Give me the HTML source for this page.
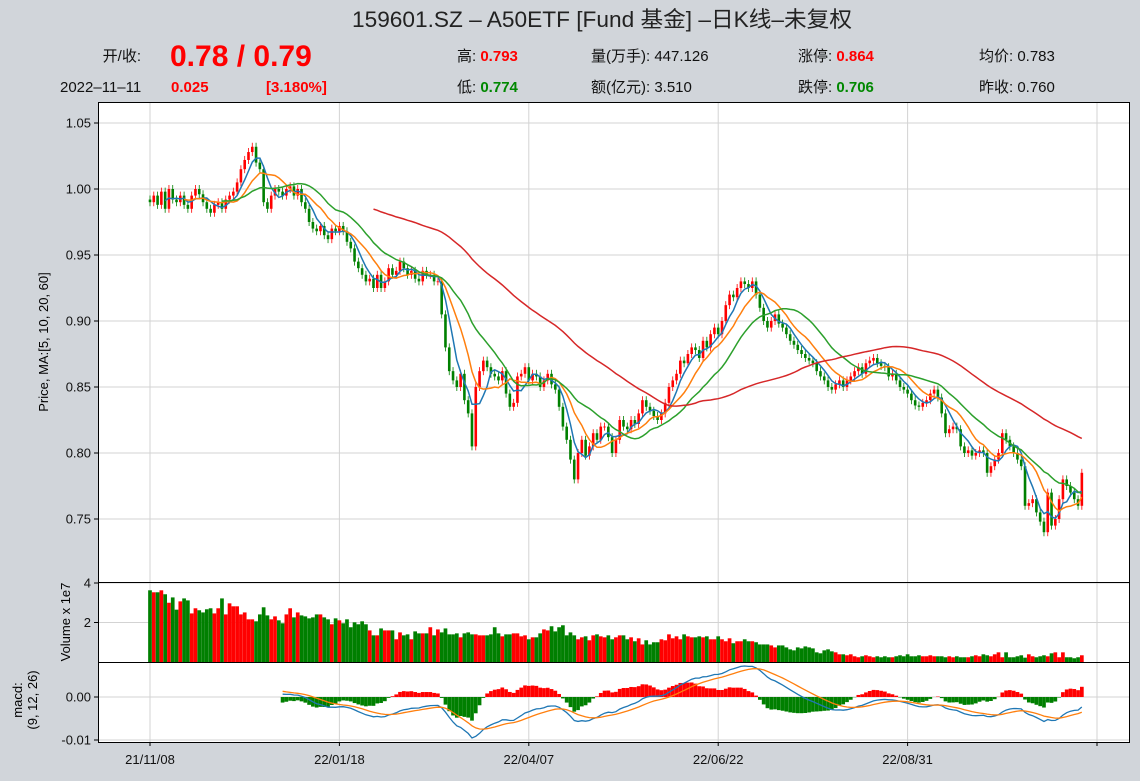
<!DOCTYPE html>
<html><head><meta charset="utf-8">
<style>
body{margin:0;background:#d1d5da;width:1140px;height:776px;overflow:hidden;font-family:"Liberation Sans","Noto Sans CJK SC",sans-serif;}
svg text{font-family:"Liberation Sans","Noto Sans CJK SC",sans-serif;}
</style></head>
<body>
<svg id="chart" width="1140" height="776" xmlns="http://www.w3.org/2000/svg">
<defs><clipPath id="macdclip"><rect x="98" y="662" width="1032" height="80"/></clipPath></defs>
<rect width="1140" height="776" fill="#d1d5da"/>
<text x="602" y="27" font-size="22" text-anchor="middle" fill="#222" textLength="500" lengthAdjust="spacingAndGlyphs">159601.SZ – A50ETF [Fund 基金] –日K线–未复权</text>
<g font-size="15" fill="#111">
<text x="141" y="61" text-anchor="end">开/收:</text>
<text x="170" y="66" font-size="30" font-weight="bold" fill="#f00">0.78 / 0.79</text>
<text x="457" y="61">高: <tspan fill="#f00" font-weight="bold">0.793</tspan></text>
<text x="591" y="61">量(万手): 447.126</text>
<text x="798" y="61">涨停: <tspan fill="#f00" font-weight="bold">0.864</tspan></text>
<text x="979" y="61">均价: 0.783</text>
<text x="60" y="92">2022–11–11</text>
<text x="171" y="92" fill="#f00" font-weight="bold">0.025</text>
<text x="266" y="92" fill="#f00" font-weight="bold">[3.180%]</text>
<text x="457" y="92">低: <tspan fill="#080" font-weight="bold">0.774</tspan></text>
<text x="591" y="92">额(亿元): 3.510</text>
<text x="798" y="92">跌停: <tspan fill="#080" font-weight="bold">0.706</tspan></text>
<text x="979" y="92">昨收: 0.760</text>
</g>
<rect x="98" y="102" width="1032" height="480" fill="#fff"/>
<rect x="98" y="582" width="1032" height="80" fill="#fff"/>
<rect x="98" y="662" width="1032" height="80" fill="#fff"/>
<g id="grid"></g>
<g id="marks"></g>
<g id="macdmarks" clip-path="url(#macdclip)"></g>
<g id="frames" fill="none" stroke="#000" stroke-width="1">
<rect x="98.5" y="102.5" width="1031" height="480"/>
<rect x="98.5" y="582.5" width="1031" height="80"/>
<rect x="98.5" y="662.5" width="1031" height="80"/>
</g>
<g id="labels" font-size="13" fill="#111"></g>
<text transform="translate(48,342) rotate(-90)" font-size="13" text-anchor="middle">Price, MA:[5, 10, 20, 60]</text>
<text transform="translate(70,622) rotate(-90)" font-size="13" text-anchor="middle">Volume x 1e7</text>
<text transform="translate(22,700) rotate(-90)" font-size="13" text-anchor="middle">macd:</text>
<text transform="translate(37,700) rotate(-90)" font-size="13" text-anchor="middle">(9, 12, 26)</text>
</svg>
<script>
const closes=[0.990,0.995,0.988,0.998,0.985,1.000,0.992,0.990,0.995,0.988,
0.985,0.995,1.000,0.996,0.990,0.985,0.982,0.988,0.990,0.985,
0.992,0.995,0.998,1.005,1.015,1.022,1.028,1.032,1.020,1.015,
0.990,0.985,0.995,1.000,0.998,0.995,1.000,1.002,0.995,1.000,
0.990,0.985,0.975,0.970,0.968,0.972,0.965,0.962,0.970,0.968,
0.972,0.968,0.960,0.955,0.945,0.940,0.935,0.930,0.932,0.925,
0.935,0.925,0.930,0.940,0.935,0.938,0.945,0.940,0.935,0.938,
0.932,0.930,0.938,0.935,0.935,0.930,0.930,0.905,0.880,0.862,
0.855,0.850,0.860,0.840,0.830,0.805,0.850,0.862,0.870,0.865,
0.860,0.858,0.855,0.862,0.845,0.835,0.838,0.858,0.860,0.865,
0.855,0.860,0.858,0.850,0.855,0.860,0.852,0.848,0.835,0.820,
0.810,0.795,0.780,0.800,0.810,0.798,0.805,0.815,0.810,0.820,
0.820,0.812,0.800,0.810,0.825,0.820,0.818,0.825,0.822,0.830,
0.840,0.835,0.832,0.828,0.825,0.830,0.838,0.850,0.855,0.860,
0.870,0.868,0.875,0.880,0.878,0.872,0.885,0.880,0.890,0.895,
0.890,0.900,0.912,0.920,0.918,0.925,0.930,0.928,0.925,0.930,
0.920,0.910,0.900,0.895,0.900,0.905,0.898,0.895,0.890,0.885,
0.882,0.878,0.875,0.872,0.870,0.868,0.862,0.858,0.855,0.850,
0.848,0.852,0.855,0.850,0.855,0.858,0.862,0.865,0.860,0.868,
0.870,0.872,0.868,0.866,0.865,0.858,0.860,0.855,0.850,0.848,
0.845,0.840,0.836,0.835,0.838,0.840,0.845,0.848,0.842,0.830,
0.815,0.818,0.820,0.818,0.805,0.800,0.802,0.798,0.800,0.802,
0.800,0.785,0.790,0.795,0.800,0.815,0.810,0.805,0.800,0.795,
0.790,0.760,0.762,0.765,0.755,0.748,0.740,0.770,0.745,0.750,
0.765,0.780,0.775,0.770,0.765,0.760,0.785];
const firstOpen=0.992;
const volumes=[3.63,3.53,3.53,3.63,3.43,3.0,3.27,2.65,3.07,3.22,
3.12,2.46,2.72,2.62,2.51,2.67,2.72,2.46,2.72,3.22,
2.41,2.97,2.82,2.82,2.41,2.51,2.16,2.16,2.06,2.41,
2.77,2.36,2.16,2.31,2.11,1.96,2.41,2.72,2.26,2.51,
2.36,2.31,2.21,2.26,2.41,2.41,2.26,2.16,1.91,2.21,
2.11,1.96,2.16,1.76,2.01,1.91,2.06,1.91,1.60,1.35,
1.35,1.70,1.60,1.60,1.60,1.15,1.50,1.35,1.40,1.15,
1.55,1.45,1.45,1.45,1.76,1.35,1.65,1.50,1.70,1.40,
1.40,1.45,1.25,1.45,1.50,1.40,1.40,1.35,1.35,1.35,
1.40,1.76,1.45,1.30,1.40,1.40,1.45,1.45,1.30,1.35,
1.15,1.25,1.25,1.45,1.65,1.60,1.81,1.55,1.76,1.86,
1.35,1.50,1.35,1.15,1.25,1.30,1.10,1.35,1.40,1.30,
1.25,1.35,1.15,1.25,1.35,1.35,1.15,1.25,1.05,1.20,
0.89,1.10,0.89,1.0,1.0,1.15,1.10,1.40,1.20,1.30,
1.15,1.40,1.30,1.25,1.25,1.30,1.25,1.30,1.15,1.15,
1.30,1.15,1.05,1.20,0.95,1.05,1.05,1.15,1.05,1.05,
1.0,0.89,0.89,0.89,0.84,0.74,0.84,0.84,0.74,0.64,
0.59,0.74,0.69,0.79,0.74,0.69,0.49,0.44,0.59,0.64,
0.54,0.49,0.39,0.39,0.34,0.39,0.29,0.24,0.29,0.34,
0.29,0.24,0.29,0.24,0.29,0.24,0.24,0.29,0.34,0.29,
0.39,0.29,0.29,0.34,0.29,0.29,0.34,0.29,0.29,0.29,
0.24,0.29,0.24,0.29,0.24,0.24,0.24,0.29,0.34,0.29,
0.39,0.34,0.29,0.39,0.49,0.24,0.49,0.24,0.24,0.29,
0.34,0.22,0.39,0.29,0.24,0.29,0.34,0.29,0.44,0.49,
0.24,0.49,0.24,0.24,0.19,0.24,0.34];
const maPeriods=[5,10,20,60];
const maColors=["#1f77b4","#ff7f0e","#2ca02c","#d62728"];
const priceTicks=[0.75,0.80,0.85,0.90,0.95,1.00,1.05];
const volTicks=[2,4];
const macdTicks=[-0.01,0.00];
const xTickIdx=[0,50,100,150,200,250];
const xTickLabels=["21/11/08","22/01/18","22/04/07","22/06/22","22/08/31",""];

const NS="http://www.w3.org/2000/svg";
const step=(1097-150)/250;
const X=i=>150+i*step;
const Yp=v=>189+(1-v)*1320;
const Yv=v=>662-v*19.75;
const Ym=v=>697-v*4300;
const Yh=v=>697-v*2600;
function mk(tag,attrs,parent){const e=document.createElementNS(NS,tag);for(const k in attrs)e.setAttribute(k,attrs[k]);parent.appendChild(e);return e;}
const grid=document.getElementById('grid'),marks=document.getElementById('marks'),labels=document.getElementById('labels'),mm=document.getElementById('macdmarks');
xTickIdx.forEach((t,k)=>{
  const x=X(t);
  [[102,582],[582,662],[662,742]].forEach(r=>{const l=mk('line',{x1:x,x2:x,y1:r[0],y2:r[1],stroke:'#d3d3d3'},grid);
  
  });
  const tk=mk('line',{x1:x,x2:x,y1:742,y2:746,stroke:'#000'},labels);
  
  
  if(xTickLabels[k]){const t2=mk('text',{x:x,y:764,'text-anchor':'middle'},labels);t2.textContent=xTickLabels[k];
  
  }
});
function yTicks(ticks,Yf,fmt){ticks.forEach(v=>{const y=Yf(v);
  const l=mk('line',{x1:98,x2:1130,y1:y,y2:y,stroke:'#d3d3d3'},grid);
  
  
  mk('line',{x1:94,x2:98,y1:y,y2:y,stroke:'#000'},labels);
  const t=mk('text',{x:91,y:y+4.5,'text-anchor':'end'},labels);t.textContent=fmt(v);
  
  });}
yTicks(priceTicks,Yp,v=>v.toFixed(2));
yTicks(volTicks,Yv,v=>String(v));
yTicks(macdTicks,Ym,v=>v.toFixed(2).replace('-0.00','0.00'));
closes.forEach((c,i)=>{
  const o=i===0?firstOpen:closes[i-1];
  const up=c>=o;const col=up?'#ff0000':'#008000';
  const x=X(i);
  const hi=Math.max(o,c),lo=Math.min(o,c);
  const w=mk('line',{x1:x,x2:x,y1:Yp(hi)-4,y2:Yp(lo)+4,stroke:col,'stroke-width':0.8},marks);
  
  
  const b=mk('rect',{x:x-1.3,y:Yp(hi),width:2.6,height:Math.max(0.8,Yp(lo)-Yp(hi)),fill:col},marks);
  
  
  const vb=mk('rect',{x:x-1.85,y:Yv(volumes[i]),width:3.7,height:662-Yv(volumes[i]),fill:up?'#ff0000':'#007f00'},marks);
  
  
});
maPeriods.forEach((p,k)=>{
  let pts=[];
  for(let i=p-1;i<closes.length;i++){let s=0;for(let j=i-p+1;j<=i;j++)s+=closes[j];pts.push(X(i).toFixed(1)+','+Yp(s/p).toFixed(1));}
  const pl=mk('polyline',{points:pts.join(' '),fill:'none',stroke:maColors[k],'stroke-width':1.5},marks);
  
  
});
function ema(arr,n){const a=2/(n+1);const out=[];let e=arr[0];arr.forEach((v,i)=>{e=i===0?v:a*v+(1-a)*e;out.push(e);});return out;}
const e12=ema(closes,12),e26=ema(closes,26);
const dif=closes.map((_,i)=>e12[i]-e26[i]);
const dea=ema(dif,9);
const start=35;
let lo=Infinity,hi=-Infinity;
for(let i=start;i<closes.length;i++){lo=Math.min(lo,dif[i],dea[i]);hi=Math.max(hi,dif[i],dea[i]);}
const Ym2=v=>738-(v-lo)/(hi-lo)*72;
let pd=[],ps=[];
for(let i=start;i<closes.length;i++){
  const h=dif[i]-dea[i];
  const y0=Yh(0),y1=Yh(h);
  const r=mk('rect',{x:X(i)-1.85,y:Math.min(y0,y1),width:3.7,height:Math.abs(y1-y0),fill:h>=0?'#ff0000':'#007f00'},mm);
  
  
  pd.push(X(i).toFixed(1)+','+Ym2(dif[i]).toFixed(1));
  ps.push(X(i).toFixed(1)+','+Ym2(dea[i]).toFixed(1));
}
const l1=mk('polyline',{points:pd.join(' '),fill:'none',stroke:'#1f77b4','stroke-width':1.3},mm);


const l2=mk('polyline',{points:ps.join(' '),fill:'none',stroke:'#ff7f0e','stroke-width':1.3},mm);


</script>
</body></html>
